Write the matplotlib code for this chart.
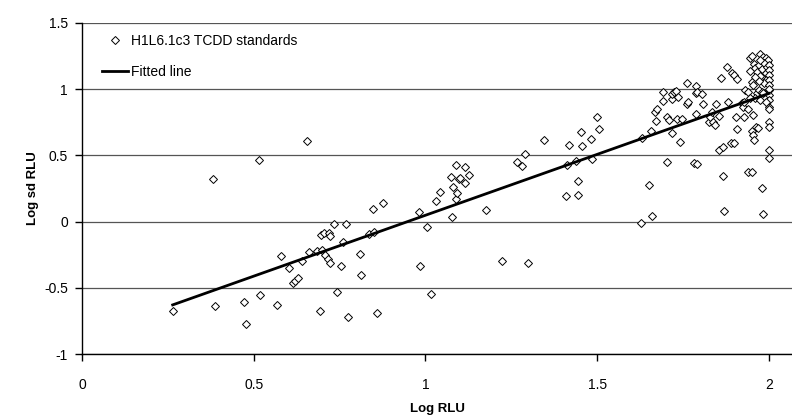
import matplotlib
matplotlib.use("Agg")
import matplotlib.pyplot as plt
from matplotlib.lines import Line2D

plt.rcParams['font.family'] = ['Liberation Sans', 'DejaVu Sans']

# Data
log_rlu = [
    0.264, 0.388, 0.381, 0.473, 0.476, 0.515, 0.519, 0.569, 0.578, 0.602,
    0.613, 0.621, 0.629, 0.640, 0.654, 0.661, 0.683, 0.692, 0.696, 0.705,
    0.718, 0.700, 0.708, 0.715, 0.723, 0.722, 0.734, 0.743, 0.755, 0.759,
    0.769, 0.775, 0.809, 0.813, 0.836, 0.850, 0.847, 0.876, 0.860, 0.981,
    1.003, 0.984, 1.016, 1.031, 1.041, 1.076, 1.075, 1.088, 1.079, 1.088,
    1.093, 1.097, 1.114, 1.100, 1.128, 1.114, 1.177, 1.222, 1.298, 1.266,
    1.280, 1.290, 1.346, 1.419, 1.412, 1.439, 1.444, 1.443, 1.409, 1.454,
    1.457, 1.482, 1.486, 1.500, 1.506, 1.627, 1.629, 1.650, 1.657, 1.659,
    1.668, 1.672, 1.673, 1.691, 1.691, 1.704, 1.704, 1.708, 1.717, 1.717,
    1.718, 1.724, 1.729, 1.734, 1.731, 1.742, 1.746, 1.760, 1.760, 1.765,
    1.783, 1.787, 1.788, 1.788, 1.791, 1.791, 1.806, 1.807, 1.826, 1.828,
    1.833, 1.838, 1.843, 1.846, 1.855, 1.855, 1.859, 1.865, 1.865, 1.869,
    1.879, 1.882, 1.889, 1.891, 1.898, 1.899, 1.904, 1.906, 1.908, 1.920,
    1.923, 1.927, 1.928, 1.930, 1.940, 1.940, 1.940, 1.945, 1.950, 1.950,
    1.950, 1.952, 1.954, 1.954, 1.954, 1.956, 1.962, 1.964, 1.967, 1.972,
    1.974, 1.979, 1.980, 1.982, 1.984, 1.984, 1.991, 1.993, 1.998,
    1.955, 1.960, 1.965, 1.970, 1.975, 1.980, 1.985, 1.990, 1.990, 1.985,
    1.970, 1.960, 1.995, 1.975, 1.945,
    2.000, 2.000, 2.000, 2.000, 2.000, 2.000, 2.000, 2.000, 2.000, 2.000,
    2.000, 2.000, 2.000, 2.000, 2.000,
    1.960, 1.975, 1.990, 1.945,
]
log_sd_rlu = [
    -0.673, -0.638, 0.324, -0.607, -0.771, 0.465, -0.557, -0.632, -0.260, -0.353,
    -0.466, -0.446, -0.426, -0.300, 0.606, -0.227, -0.220, -0.673, -0.101, -0.084,
    -0.084, -0.215, -0.250, -0.280, -0.310, -0.107, -0.020, -0.534, -0.333, -0.152,
    -0.020, -0.720, -0.243, -0.400, -0.096, -0.079, 0.095, 0.138, -0.688, 0.070,
    -0.039, -0.333, -0.549, 0.153, 0.226, 0.037, 0.335, 0.425, 0.261, 0.173,
    0.214, 0.324, 0.415, 0.327, 0.352, 0.294, 0.088, -0.295, -0.310, 0.450,
    0.422, 0.508, 0.614, 0.576, 0.428, 0.458, 0.309, 0.200, 0.190, 0.674,
    0.573, 0.622, 0.470, 0.788, 0.697, -0.013, 0.634, 0.276, 0.682, 0.045,
    0.826, 0.762, 0.850, 0.908, 0.977, 0.450, 0.788, 0.767, 0.926, 0.961,
    0.671, 0.981, 0.989, 0.943, 0.777, 0.599, 0.777, 1.045, 0.888, 0.901,
    0.443, 1.027, 0.969, 0.813, 0.981, 0.433, 0.961, 0.888, 0.752, 0.792,
    0.826, 0.754, 0.730, 0.888, 0.798, 0.541, 1.087, 0.561, 0.344, 0.080,
    1.170, 0.903, 0.591, 1.120, 1.107, 0.591, 0.792, 1.075, 0.697, 0.893,
    0.868, 0.788, 0.906, 0.994, 0.981, 0.848, 0.377, 1.238, 0.377, 0.684,
    1.057, 1.253, 0.805, 0.654, 1.032, 0.616, 0.717, 0.969, 0.705, 0.994,
    1.264, 0.981, 0.256, 1.245, 0.969, 0.055, 1.233, 1.208, 1.220,
    1.190, 1.160, 1.130, 1.180, 1.100, 1.150, 1.200, 1.120, 1.070, 1.050,
    1.060, 1.090, 1.170, 1.220, 1.140,
    1.185, 1.147, 1.110, 1.070, 1.030, 0.994, 0.956, 0.868, 0.848, 0.755,
    0.717, 0.541, 0.483, 0.920, 1.000,
    0.930, 0.920, 0.900, 0.930,
]
fit_slope = 0.920
fit_intercept = -0.872

series_label = "H1L6.1c3 TCDD standards"
line_label = "Fitted line"
x_ticks = [0, 0.5, 1, 1.5, 2]
x_tick_labels = ["0", "0.5", "1", "1.5", "2"]
y_ticks = [-1, -0.5, 0, 0.5, 1, 1.5]
y_tick_labels = ["-1", "-0.5", "0", "0.5", "1", "1.5"]

fig = plt.figure(figsize=(7.92, 4.15), dpi=100)
ax = fig.add_axes([82 / 792, 61 / 415, 710 / 792, 331 / 415])

ax.set_xlim(0, 2.067)
ax.set_ylim(-1, 1.5)

for yv in y_ticks:
    ax.axhline(yv, color='#555555', linewidth=0.9, zorder=1)

ax.plot(log_rlu, log_sd_rlu, linestyle='none', marker='D', markersize=4.4,
        markerfacecolor='white', markeredgecolor='black', markeredgewidth=0.7,
        zorder=3)

xmin, xmax = min(log_rlu), max(log_rlu)
ax.plot([xmin, xmax], [fit_intercept + fit_slope * xmin, fit_intercept + fit_slope * xmax],
        color='black', linewidth=2.0, zorder=4)

ax.spines['top'].set_visible(False)
ax.spines['right'].set_visible(False)
ax.spines['left'].set_color('black')
ax.spines['bottom'].set_color('black')
ax.spines['left'].set_linewidth(1.0)
ax.spines['bottom'].set_linewidth(1.0)

ax.set_xticks(x_ticks)
ax.set_xticklabels(x_tick_labels)
ax.set_yticks(y_ticks)
ax.set_yticklabels(y_tick_labels)
ax.tick_params(axis='both', direction='out', length=5, width=1, labelsize=10,
               colors='black', pad=5)
ax.tick_params(axis='x', pad=12)

ax.set_xlabel("Log RLU", fontsize=9.5, fontweight='bold', labelpad=8)
ax.set_ylabel("Log sd RLU", fontsize=9.5, fontweight='bold', labelpad=4)

handles = [
    Line2D([], [], linestyle='none', marker='D', markersize=4.4,
           markerfacecolor='white', markeredgecolor='black', markeredgewidth=0.7),
    Line2D([], [], color='black', linewidth=2.0),
]
ax.legend(handles, [series_label, line_label], loc='upper left',
          bbox_to_anchor=(20 / 710, 1 - 11 / 331), frameon=False, fontsize=10,
          borderpad=0, borderaxespad=0, handlelength=1.87, handletextpad=0.22,
          labelspacing=1.2)

fig.savefig("out.png", dpi=100)
